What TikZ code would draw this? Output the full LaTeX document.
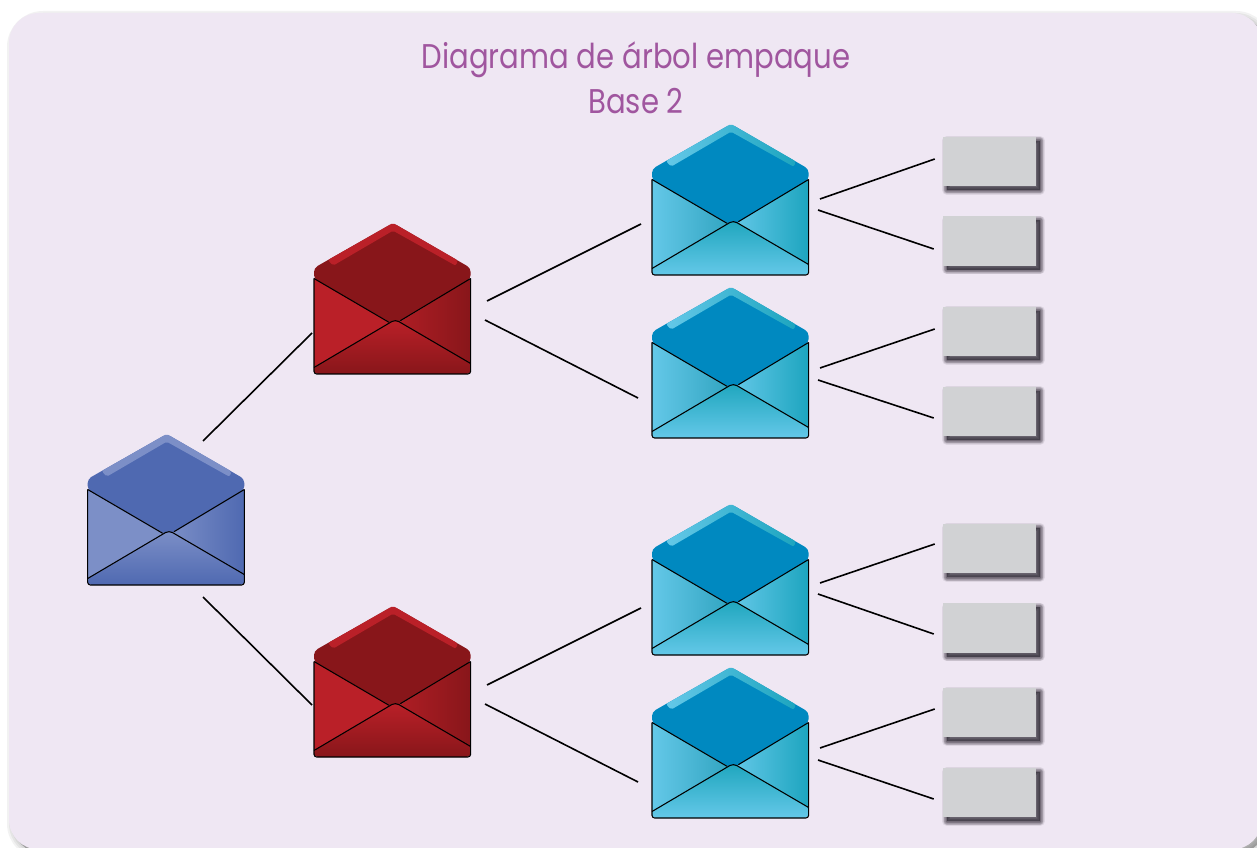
\documentclass[tikz,border=0pt]{standalone}
\usepackage{fontspec}
\newfontfamily\titlefont[FakeStretch=0.85]{Poppins}

\definecolor{panelbg}{HTML}{EFE7F3}
\definecolor{titlecol}{HTML}{A0569F}
\definecolor{cellgray}{HTML}{D1D2D4}
\definecolor{shadowcol}{HTML}{2A2530}

\definecolor{rtflap}{HTML}{4F69B1}
\definecolor{rtleftA}{HTML}{7C8FC7}
\definecolor{rtleftB}{HTML}{7C8FC7}
\definecolor{rtrightA}{HTML}{7C8FC7}
\definecolor{rtrightB}{HTML}{4F69B1}
\definecolor{rtfrontA}{HTML}{7C8FC7}
\definecolor{rtfrontB}{HTML}{4F69B1}
\definecolor{rtbandA}{HTML}{7C8FC7}
\definecolor{rtbandB}{HTML}{7C8FC7}

\definecolor{rdflap}{HTML}{88161A}
\definecolor{rdleftA}{HTML}{BA2028}
\definecolor{rdleftB}{HTML}{BA2028}
\definecolor{rdrightA}{HTML}{B01E25}
\definecolor{rdrightB}{HTML}{88161A}
\definecolor{rdfrontA}{HTML}{BA2028}
\definecolor{rdfrontB}{HTML}{88161A}
\definecolor{rdbandA}{HTML}{BA2028}
\definecolor{rdbandB}{HTML}{BA2028}

\definecolor{blflap}{HTML}{0089C0}
\definecolor{blleftA}{HTML}{64C8E8}
\definecolor{blleftB}{HTML}{2FA3BF}
\definecolor{blrightA}{HTML}{64C8E8}
\definecolor{blrightB}{HTML}{1DA5BF}
\definecolor{blfrontA}{HTML}{1FA6BE}
\definecolor{blfrontB}{HTML}{64C8E8}
\definecolor{blbandA}{HTML}{64C8E8}
\definecolor{blbandB}{HTML}{1DA5BF}

\tikzset{
    envnode/.style={inner sep=0pt, outer sep=0pt, minimum size=0pt},
    envline/.style={black, line width=0.8pt},
    softlayer/.style args={#1/#2/#3}{preaction={draw=#3, line width=#1, line join=round,
        draw opacity=#2, transform canvas={xshift=3pt, yshift=-3pt}}},
    cell/.style={fill=cellgray, minimum width=69.75pt, minimum height=37pt, inner sep=0pt,
        preaction={fill=shadowcol, fill opacity=0.6, transform canvas={xshift=3pt, yshift=-3pt}},
        softlayer=7pt/0.09/shadowcol, softlayer=6pt/0.11/shadowcol,
        softlayer=5pt/0.13/shadowcol, softlayer=4pt/0.14/shadowcol,
        softlayer=3pt/0.15/shadowcol, softlayer=2pt/0.15/shadowcol,
        softlayer=1pt/0.15/shadowcol},
    branch/.style={black, line width=1.2pt}
}

% #1 name, #2 position of the flap tip, #3 colour prefix
\newcommand{\envelope}[3]{
    \node[envnode] (#1) at (#2) {};
    \begin{scope}[shift={(#2)}]
        \fill[#3flap, rounded corners=3pt] (-79,56) -- (-79,45) -- (0,0) -- (77.6,45) -- (77.6,56) -- (1.5,102) -- cycle;
        \path[left color=#3bandA, right color=#3bandB, rounded corners=1.5pt]
            (-65,37) -- (0,0) -- (65,37.5) -- (62.7,42.7) -- (0,7.7) -- (-60,42.7) -- cycle;
        \path[left color=#3leftA, right color=#3leftB] (-79,55.5) -- (1.5,102) -- (-79,150) -- cycle;
        \path[left color=#3rightA, right color=#3rightB] (77.6,55.5) -- (1.5,102) -- (1.5,110) -- (77.6,150) -- cycle;
        \path[top color=#3frontA, bottom color=#3frontB, rounded corners=3pt]
            (-79,144.5) -- (2.3,96.5) -- (77.6,140.5) -- (77.6,151) -- (-79,151) -- cycle;
        \draw[envline] (-79,55.5) -- (-4,99.3);
        \draw[envline] (77.6,55.5) -- (7.3,97.7);
        \draw[envline, rounded corners=3pt] (-79,144.5) -- (2.3,96.5) -- (77.6,140.5);
        \draw[envline, rounded corners=2pt] (-79,55.5) -- (-79,151) -- (77.6,151) -- (77.6,55.5);
    \end{scope}
}

\begin{document}
\begin{tikzpicture}[x=0.75pt, y=-0.75pt]

\useasboundingbox (0,0) rectangle (1257,848);
\fill[white] (0,0) rectangle (1257,848);
\fill[panelbg, rounded corners=22.5pt,
    preaction={fill=black, fill opacity=0.28, transform canvas={xshift=3pt, yshift=-3pt}},
    softlayer=9pt/0.05/black, softlayer=6pt/0.05/black, softlayer=3pt/0.05/black]
    (9,13) rectangle (1262,849.5);

\node[text=titlecol, align=center, inner sep=0pt, font=\titlefont\fontsize{25.7}{33.75}\selectfont]
    (title) at (636,78) {Diagrama de árbol empaque\\Base 2};

\envelope{root}{166.7,434}{rt}
\envelope{redup}{393,223}{rd}
\envelope{reddown}{393,606}{rd}
\envelope{blueA}{731,124}{bl}
\envelope{blueB}{731,287}{bl}
\envelope{blueC}{731,504}{bl}
\envelope{blueD}{731,667}{bl}

\node[cell] (cellA) at (989.5,161.5) {};
\node[cell] (cellB) at (989.5,241) {};
\node[cell] (cellC) at (989.5,331.5) {};
\node[cell] (cellD) at (989.5,411.5) {};
\node[cell] (cellE) at (989.5,548.5) {};
\node[cell] (cellF) at (989.5,628) {};
\node[cell] (cellG) at (989.5,712.5) {};
\node[cell] (cellH) at (989.5,792.5) {};

\path[branch]
    ([shift={(36.3,7)}]root.center) edge ([shift={(-81,110)}]redup.center)
    ([shift={(36.3,163)}]root.center) edge ([shift={(-81,99)}]reddown.center)
    ([shift={(94,78)}]redup.center) edge ([shift={(-90,100)}]blueA.center)
    ([shift={(92,97)}]redup.center) edge ([shift={(-93,111)}]blueB.center)
    ([shift={(94,79)}]reddown.center) edge ([shift={(-90,104)}]blueC.center)
    ([shift={(92,98)}]reddown.center) edge ([shift={(-93,115)}]blueD.center)
    ;

\foreach \env/\upper/\lower/\sa/\sb/\ea/\eb in {
    blueA/cellA/cellB/75/86/-2.5/8,
    blueB/cellC/cellD/81/93/-2.5/6.5,
    blueC/cellE/cellF/79/90/-4.5/6,
    blueD/cellG/cellH/81/93/-3.5/6.5}{
    \path[branch]
        ([shift={(89,\sa)}]\env.center) edge ([shift={(-8,\ea)}]\upper.west)
        ([shift={(87,\sb)}]\env.center) edge ([shift={(-9,\eb)}]\lower.west)
        ;
}

\end{tikzpicture}
\end{document}
